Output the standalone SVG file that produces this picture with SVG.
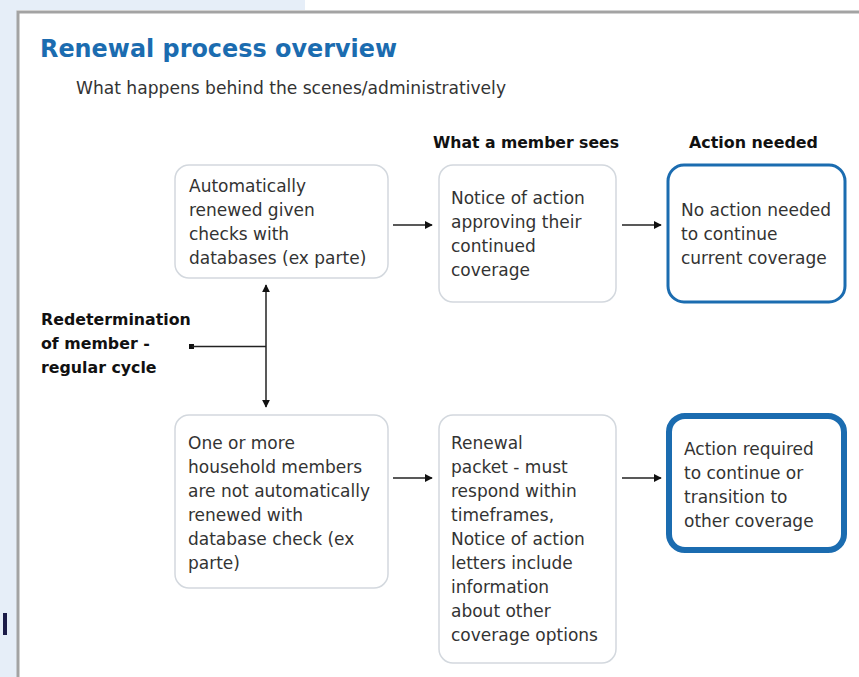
<svg xmlns="http://www.w3.org/2000/svg" width="859" height="677" viewBox="0 0 859 677">
<style>
.t{font-family:"DejaVu Sans",Verdana,sans-serif;font-size:17px;fill:#333}
.b{font-family:"DejaVu Sans",Verdana,sans-serif;font-size:15.8px;font-weight:bold;fill:#111}
.box{fill:#fff;stroke:#d3d8de;stroke-width:1.5}
.con{stroke:#222;stroke-width:1.5;fill:none}
</style>
<defs>
<marker id="ah" viewBox="0 0 10 10" refX="9" refY="5" markerWidth="8" markerHeight="8" orient="auto-start-reverse" markerUnits="userSpaceOnUse">
<path d="M0,0 L10,5 L0,10 z" fill="#111"/>
</marker>
</defs>
<rect x="0" y="0" width="859" height="677" fill="#fff"/>
<rect x="0" y="0" width="17" height="677" fill="#e6eef8"/>
<rect x="0" y="0" width="305" height="10" fill="#e6eef8"/>
<rect x="3" y="613" width="4" height="22" fill="#1c1c48"/>
<path d="M18,677 V12 H859" fill="none" stroke="#a3a3a3" stroke-width="3"/>
<text x="40" y="57" font-family="DejaVu Sans,Verdana,sans-serif" font-size="24" font-weight="bold" fill="#1b6cb0" textLength="357" lengthAdjust="spacingAndGlyphs">Renewal process overview</text>
<text class="t" x="76" y="94" font-size="16" textLength="430" lengthAdjust="spacingAndGlyphs">What happens behind the scenes/administratively</text>
<text class="b" x="433" y="148" textLength="186" lengthAdjust="spacingAndGlyphs">What a member sees</text>
<text class="b" x="689" y="148" textLength="129" lengthAdjust="spacingAndGlyphs">Action needed</text>
<g id="redetermination">
<text class="b" x="41" y="325">Redetermination</text>
<text class="b" x="41" y="349">of member -</text>
<text class="b" x="41" y="373">regular cycle</text>
</g>
<g id="auto-renewed">
<rect class="box" x="175" y="165" width="213" height="113" rx="14"/>
<text class="t" x="189" y="192">Automatically</text>
<text class="t" x="189" y="216">renewed given</text>
<text class="t" x="189" y="240">checks with</text>
<text class="t" x="189" y="264">databases (ex parte)</text>
</g>
<g id="notice-approving">
<rect class="box" x="439" y="165" width="177" height="137" rx="14"/>
<text class="t" x="451" y="204">Notice of action</text>
<text class="t" x="451" y="228">approving their</text>
<text class="t" x="451" y="252">continued</text>
<text class="t" x="451" y="276">coverage</text>
</g>
<g id="no-action">
<rect x="668" y="165" width="177" height="137" rx="16" fill="#fff" stroke="#1b6cb0" stroke-width="3"/>
<text class="t" x="681" y="216">No action needed</text>
<text class="t" x="681" y="240">to continue</text>
<text class="t" x="681" y="264">current coverage</text>
</g>
<g id="not-auto">
<rect class="box" x="175" y="415" width="213" height="173" rx="14"/>
<text class="t" x="188" y="449">One or more</text>
<text class="t" x="188" y="473">household members</text>
<text class="t" x="188" y="497">are not automatically</text>
<text class="t" x="188" y="521">renewed with</text>
<text class="t" x="188" y="545">database check (ex</text>
<text class="t" x="188" y="569">parte)</text>
</g>
<g id="renewal-packet">
<rect class="box" x="439" y="415" width="177" height="248" rx="14"/>
<text class="t" x="451" y="449">Renewal</text>
<text class="t" x="451" y="473">packet - must</text>
<text class="t" x="451" y="497">respond within</text>
<text class="t" x="451" y="521">timeframes,</text>
<text class="t" x="451" y="545">Notice of action</text>
<text class="t" x="451" y="569">letters include</text>
<text class="t" x="451" y="593">information</text>
<text class="t" x="451" y="617">about other</text>
<text class="t" x="451" y="641">coverage options</text>
</g>
<g id="action-required">
<rect x="669" y="416" width="175" height="134" rx="16" fill="#fff" stroke="#1b6cb0" stroke-width="6"/>
<text class="t" x="684" y="455">Action required</text>
<text class="t" x="684" y="479">to continue or</text>
<text class="t" x="684" y="503">transition to</text>
<text class="t" x="684" y="527">other coverage</text>
</g>
<g id="connectors">
<rect x="189" y="344" width="5" height="5" fill="#111"/>
<line class="con" x1="192" y1="346.5" x2="266" y2="346.5"/>
<line class="con" x1="266" y1="285" x2="266" y2="407" marker-start="url(#ah)" marker-end="url(#ah)"/>
<line class="con" x1="393" y1="225" x2="432" y2="225" marker-end="url(#ah)"/>
<line class="con" x1="622" y1="225" x2="661" y2="225" marker-end="url(#ah)"/>
<line class="con" x1="393" y1="478" x2="432" y2="478" marker-end="url(#ah)"/>
<line class="con" x1="622" y1="478" x2="661" y2="478" marker-end="url(#ah)"/>
</g>
</svg>
